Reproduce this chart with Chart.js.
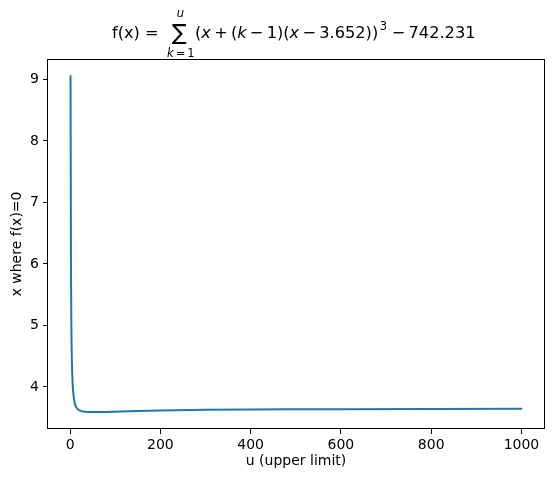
<!DOCTYPE html>
<html>
<head>
<meta charset="utf-8">
<script src="https://cdn.jsdelivr.net/npm/chart.js@4.4.1/dist/chart.umd.min.js"></script>
<style>
  html, body { margin: 0; padding: 0; background: #fff; }
  #wrap { width: 554px; height: 482px; }
</style>
</head>
<body>
<div id="wrap"><canvas id="chart" width="554" height="482"></canvas></div>
<script>
// values
const uValues = [1, 2, 3, 4, 5, 6, 7, 8, 10, 12, 15, 20, 25, 30, 35, 40, 50, 70, 100, 150, 200, 300, 400, 500, 600, 800, 1000];
const xRoots = [9.056, 5.89, 4.88, 4.42, 4.166, 4.010, 3.908, 3.838, 3.747, 3.697, 3.654, 3.623, 3.607, 3.600, 3.597, 3.595, 3.594, 3.594, 3.598, 3.610, 3.619, 3.629, 3.635, 3.638, 3.640, 3.643, 3.645];
const xTicks = [0, 200, 400, 600, 800, 1000];
const yTicks = [4, 5, 6, 7, 8, 9];

const FONT = 'DejaVu Sans';

// frame around the plot area + math title (drawn on the canvas)
const frameAndTitle = {
    id: 'frameAndTitle',
    afterDraw(chart) {
        const { ctx, chartArea: a } = chart;
        ctx.save();
        ctx.strokeStyle = '#000';
        ctx.lineWidth = 1;
        ctx.strokeRect(Math.round(a.left) - 0.5, Math.round(a.top) + 0.5,
            Math.round(a.right - a.left) + 1, Math.round(a.bottom - a.top) - 1);

        ctx.fillStyle = '#000';
        ctx.textBaseline = 'alphabetic';
        ctx.textAlign = 'left';
        const put = (text, x, y, size, italic) => {
            ctx.font = (italic ? 'italic ' : '') + size + 'px "' + FONT + '"';
            ctx.fillText(text, x, y);
            return x + ctx.measureText(text).width;
        };
        const base = 38, size = 16.2, small = 11.5, gap = size * 0.2;

        put('f(x) =', 112, base, size, false);

        // big sum sign with limits
        ctx.font = '22px "' + FONT + '"';
        const sw = ctx.measureText('\u2211').width;
        const sx = 172;
        put('\u2211', sx, 40, 22, false);
        ctx.font = 'italic ' + small + 'px "' + FONT + '"';
        const uw = ctx.measureText('u').width;
        put('u', sx + sw / 2 - uw / 2 + 1, 17, small, true);
        let kx = 167;
        kx = put('k', kx, 57, small, true) + 2;
        kx = put('=', kx, 57, small, false) + 2;
        put('1', kx, 57, small, false);

        // (x + (k − 1)(x − 3.652))^3 − 742.231
        const pieces = [
            ['(', 0], ['x', 1], [null], ['+', 0], [null], ['(', 0], ['k', 1], [null], ['\u2212', 0], [null],
            ['1)(', 0], ['x', 1], [null], ['\u2212', 0], [null], ['3.652))', 0]
        ];
        let x = 195;
        pieces.forEach(p => {
            if (p[0] === null) { x += gap; return; }
            x = put(p[0], x, base, size, p[1] === 1);
        });
        x = put('3', x + 1.5, 30, small, false);
        x += gap + 1.5;
        x = put('\u2212', x, base, size, false);
        x += gap;
        put('742.231', x, base, size, false);
        ctx.restore();
    }
};

const axisFont = { family: FONT, size: 14 };

new Chart(document.getElementById('chart').getContext('2d'), {
    type: 'line',
    data: {
        datasets: [{
            data: uValues.map((u, i) => ({ x: u, y: xRoots[i] })),
            borderColor: '#1f77b4',
            borderWidth: 2,
            borderJoinStyle: 'round',
            borderCapStyle: 'round',
            pointRadius: 0,
            fill: false,
            cubicInterpolationMode: 'monotone'
        }]
    },
    options: {
        responsive: false,
        animation: false,
        layout: { padding: { top: 59, right: 10, left: 0, bottom: 0 } },
        plugins: { legend: { display: false }, tooltip: { enabled: false } },
        scales: {
            x: {
                type: 'linear',
                min: -48.95,
                max: 1049.95,
                afterBuildTicks: s => { s.ticks = xTicks.map(v => ({ value: v })); },
                afterFit: s => { s.height = 53; },
                grid: { drawOnChartArea: false, drawTicks: true, tickLength: 5, color: '#000' },
                border: { display: false },
                ticks: { color: '#000', font: axisFont, padding: 3, maxRotation: 0, callback: v => String(v) },
                title: { display: true, text: 'u (upper limit)', color: '#000', font: axisFont, padding: { top: 12, bottom: 12 } }
            },
            y: {
                type: 'linear',
                min: 3.317,
                max: 9.331,
                afterBuildTicks: s => { s.ticks = yTicks.map(v => ({ value: v })); },
                afterFit: s => { s.width = 48; },
                grid: { drawOnChartArea: false, drawTicks: true, tickLength: 5, color: '#000' },
                border: { display: false },
                ticks: { color: '#000', font: axisFont, padding: 4, callback: v => String(v) },
                title: { display: true, text: 'x where f(x)=0', color: '#000', font: axisFont, padding: { top: 9, bottom: 9 } }
            }
        }
    },
    plugins: [frameAndTitle]
});
</script>
</body>
</html>
